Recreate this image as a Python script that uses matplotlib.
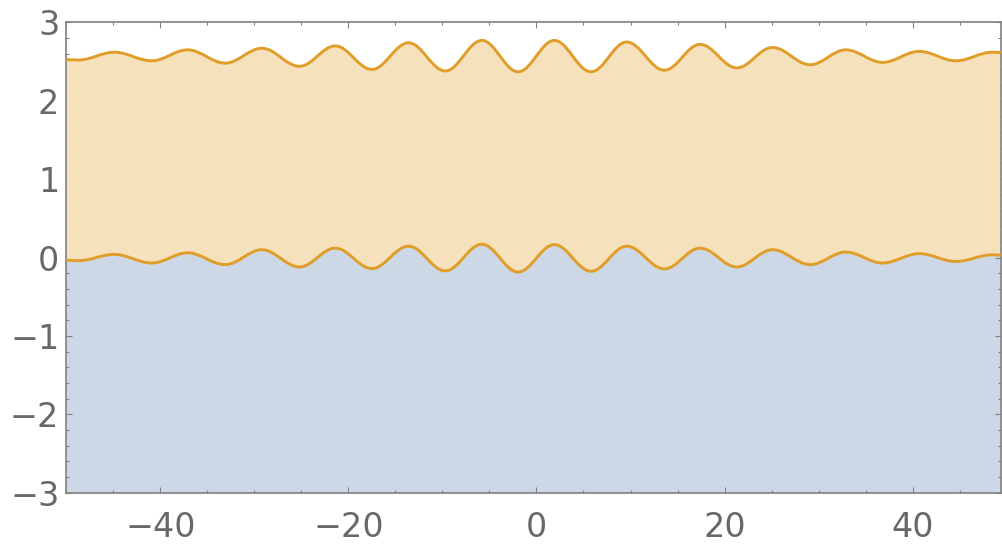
import matplotlib
matplotlib.use("Agg")
import matplotlib.pyplot as plt
from matplotlib.path import Path
from matplotlib.patches import PathPatch
from matplotlib.ticker import MultipleLocator, FixedLocator

# ---- data (extrema of the two wavy boundaries) ----
x_pts = [-50.0, -48.7, -44.9, -40.9, -37.1, -33.1, -29.2, -25.2, -21.4, -17.5,
         -13.6, -9.7, -5.8, -1.95, 1.9, 5.8, 9.6, 13.6, 17.4, 21.3,
         25.1, 29.1, 32.9, 36.8, 40.7, 44.6, 48.5, 49.4]
lower_y = [-0.035, -0.04, 0.04, -0.07, 0.06, -0.09, 0.10, -0.12, 0.12, -0.14,
           0.145, -0.17, 0.17, -0.185, 0.165, -0.175, 0.145, -0.145, 0.12, -0.12,
           0.10, -0.09, 0.07, -0.07, 0.05, -0.05, 0.035, 0.03]
upper_y = [2.525, 2.52, 2.62, 2.51, 2.65, 2.48, 2.67, 2.44, 2.70, 2.40,
           2.74, 2.38, 2.77, 2.37, 2.77, 2.37, 2.75, 2.39, 2.72, 2.42,
           2.68, 2.46, 2.65, 2.49, 2.63, 2.51, 2.62, 2.615]
x_major = [-40, -20, 0, 20, 40]
y_major = [-3, -2, -1, 0, 1, 2, 3]
x_range = (-50, 49.4)
y_range = (-3, 3)

LINE = "#E09D28"
FILL_TOP = "#F6E1BD"
FILL_BOT = "#CDD8E6"
FRAME = "#808080"
LABEL = "#686868"
C = 0.3634  # bezier handle fraction (smooth horizontal tangents at extrema)


def bezier(xs, ys):
    verts = [(xs[0], ys[0])]
    codes = [Path.MOVETO]
    for i in range(len(xs) - 1):
        x0, y0, x1, y1 = xs[i], ys[i], xs[i + 1], ys[i + 1]
        h = x1 - x0
        verts += [(x0 + C * h, y0), (x1 - C * h, y1), (x1, y1)]
        codes += [Path.CURVE4] * 3
    return verts, codes


lv, lc = bezier(x_pts, lower_y)
uv, uc = bezier(x_pts[::-1], upper_y[::-1])

fig = plt.figure(figsize=(10.02, 5.45), dpi=100)
ax = fig.add_axes([66.3 / 1002, 1 - 492.7 / 545, (1001 - 66.3) / 1002, (492.7 - 22.4) / 545])

# blue region: bottom up to lower curve
bv = lv + [(x_pts[-1], y_range[0]), (x_pts[0], y_range[0]), (x_pts[0], lower_y[0])]
bc = lc + [Path.LINETO, Path.LINETO, Path.CLOSEPOLY]
ax.add_patch(PathPatch(Path(bv, bc), facecolor=FILL_BOT, edgecolor="none", zorder=1))

# orange region: between lower and upper curves
ov = lv + [uv[0]] + uv[1:] + [(x_pts[0], lower_y[0])]
oc = lc + [Path.LINETO] + uc[1:] + [Path.CLOSEPOLY]
ax.add_patch(PathPatch(Path(ov, oc), facecolor=FILL_TOP, edgecolor="none", zorder=2))

# boundary lines
ax.add_patch(PathPatch(Path(lv, lc), facecolor="none", edgecolor=LINE, lw=2.1, zorder=3))
uv2, uc2 = bezier(x_pts, upper_y)
ax.add_patch(PathPatch(Path(uv2, uc2), facecolor="none", edgecolor=LINE, lw=2.1, zorder=3))

ax.set_xlim(*x_range)
ax.set_ylim(*y_range)

ax.xaxis.set_major_locator(FixedLocator(x_major))
ax.xaxis.set_minor_locator(MultipleLocator(5))
ax.yaxis.set_major_locator(FixedLocator(y_major))
ax.yaxis.set_minor_locator(MultipleLocator(0.2))

for s in ax.spines.values():
    s.set_color(FRAME)
    s.set_linewidth(1.2)

ax.tick_params(which="both", direction="in", top=True, right=True, color=FRAME, width=0.8)
ax.tick_params(which="major", length=4.3)
ax.tick_params(which="minor", length=2.4)
ax.tick_params(axis="x", which="major", pad=13.5, labelsize=24, labelcolor=LABEL)
ax.tick_params(axis="y", which="major", pad=5, labelsize=24, labelcolor=LABEL)
ax.set_xticklabels([f"\u2212{abs(v)}" if v < 0 else str(v) for v in x_major])
ax.set_yticklabels([f"\u2212{abs(v)}" if v < 0 else str(v) for v in y_major])

fig.savefig("out.png", dpi=100)
